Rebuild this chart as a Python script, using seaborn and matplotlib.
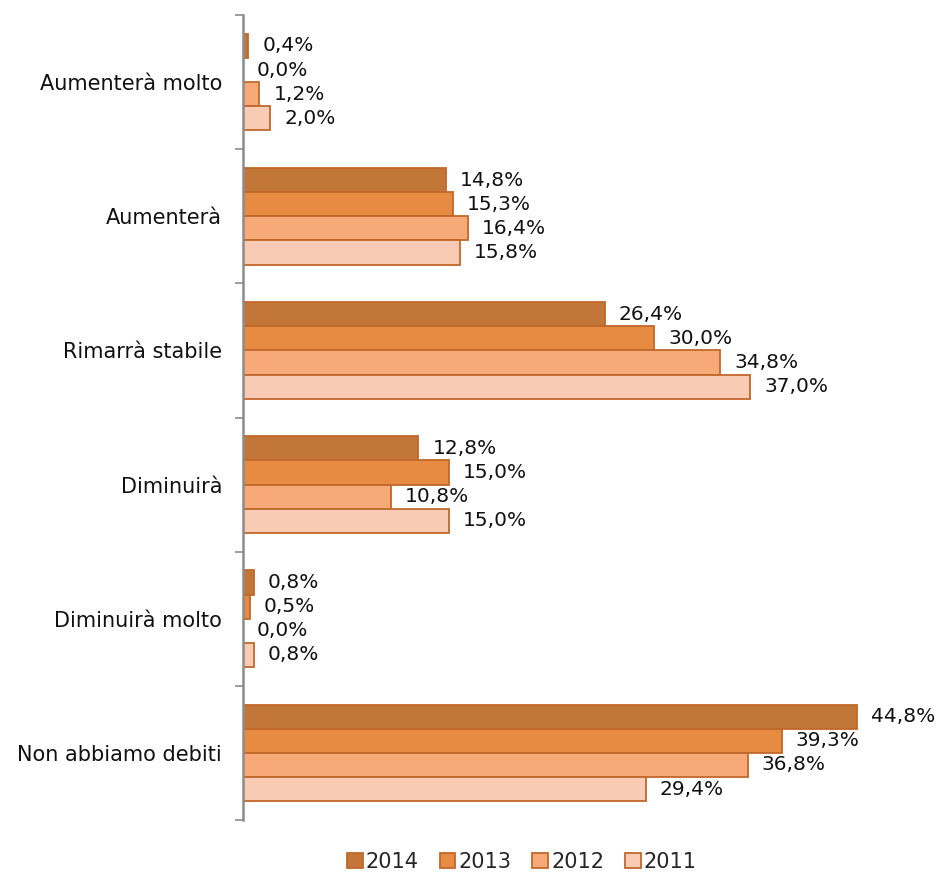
import matplotlib
matplotlib.use("Agg")
import matplotlib.pyplot as plt
import seaborn as sns
import pandas as pd
import numpy as np

categories = ["Aumenterà molto", "Aumenterà", "Rimarrà stabile", "Diminuirà",
              "Diminuirà molto", "Non abbiamo debiti"]
years = ["2014", "2013", "2012", "2011"]
v2014 = [0.4, 14.8, 26.4, 12.8, 0.8, 44.8]
v2013 = [0.0, 15.3, 30.0, 15.0, 0.5, 39.3]
v2012 = [1.2, 16.4, 34.8, 10.8, 0.0, 36.8]
v2011 = [2.0, 15.8, 37.0, 15.0, 0.8, 29.4]
colors = ["#C27638", "#E88B42", "#F7A978", "#F9CBB5"]

series = {"2014": v2014, "2013": v2013, "2012": v2012, "2011": v2011}
rows = []
for y in years:
    for c, v in zip(categories, series[y]):
        rows.append({"cat": c, "year": y, "val": v})
df = pd.DataFrame(rows)

sns.set_style("white")
plt.rcParams['font.family'] = ['DejaVu Sans']

fig = plt.figure(figsize=(9.36, 8.77), dpi=100)
ax = fig.add_axes([243/936, 57/877, 1 - 243/936 - 0.008, (820-15)/877])

sns.barplot(data=df, y="cat", x="val", hue="year", order=categories,
            hue_order=years, palette=colors, saturation=1, orient="h", width=0.72,
            edgecolor="#C0682A", linewidth=1.3, ax=ax, legend=True)

for cont in ax.containers:
    labels = [f"{w:.1f}".replace(".", ",") + "%" for w in cont.datavalues]
    ax.bar_label(cont, labels=labels, padding=10, fontsize=14.5, color="#111111")

ax.set_xlim(0, 50)
ax.set_ylim(len(categories) - 0.5, -0.5)
ax.set_xlabel("")
ax.set_ylabel("")
ax.set_xticks([])
ax.set_yticks(range(len(categories)))
ax.set_yticklabels(categories, fontsize=15, color="#111111")
ax.tick_params(axis="y", which="major", length=0, pad=15)
ax.set_yticks(np.arange(-0.5, len(categories), 1.0), minor=True)
ax.tick_params(axis="y", which="minor", length=6, width=1.2, color="#8C8C8C", left=True)

for s in ["top", "right", "bottom"]:
    ax.spines[s].set_visible(False)
ax.spines["left"].set_color("#8C8C8C")
ax.spines["left"].set_linewidth(1.8)

handles, lbls = ax.get_legend_handles_labels()
ax.get_legend().remove()
fig.legend(handles, lbls, loc="center", bbox_to_anchor=(522/936, 1 - 862/877),
           ncol=4, frameon=False, fontsize=15, handlelength=0.75, handleheight=0.75,
           handletextpad=0.15, columnspacing=1.0)

fig.savefig("out.png", dpi=100)
